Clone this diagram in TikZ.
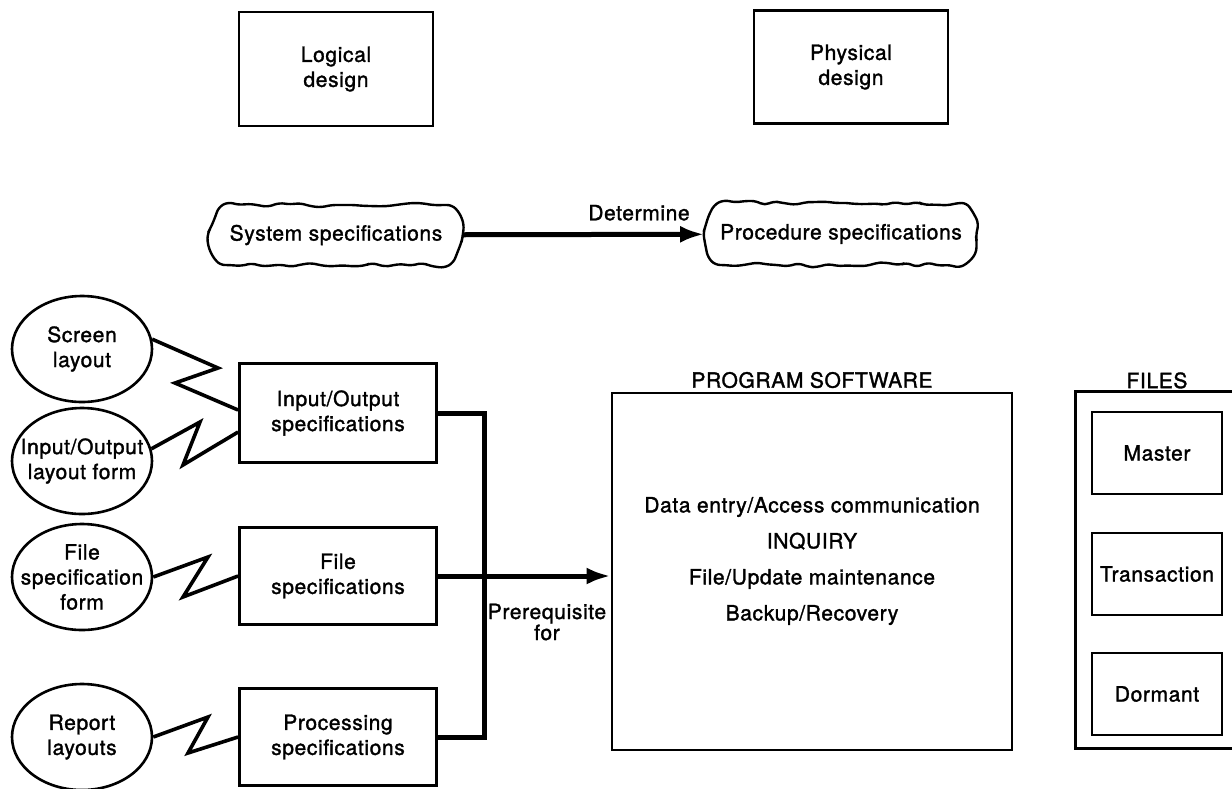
\documentclass[tikz,border=0pt]{standalone}
\usepackage{fontspec}
\setmainfont{TeX Gyre Heros}[RawFeature={embolden=1.5}, LetterSpace=3]
\usetikzlibrary{arrows.meta, shapes.geometric, shapes.misc, decorations.pathmorphing}

\tikzset{
  box/.style={draw, line width=2.8pt, align=center, inner sep=2pt},
  oval/.style={ellipse, draw, line width=2.6pt, align=center,
               minimum width=140pt, minimum height=106pt, inner sep=-14pt},
  wavy/.style={rounded rectangle, rounded rectangle arc length=100,
               draw, line width=2.4pt, rounded corners=5pt, decorate,
               decoration={random steps, segment length=10pt, amplitude=2.6pt}},
  zig/.style={line width=3.6pt, line join=miter},
  bus/.style={line width=5pt, line join=miter},
  arr/.style={line width=5pt, -{Latex[length=24pt, width=17pt]}}
}

\begin{document}
\begin{tikzpicture}[x=1pt, y=-1pt, >=Latex,
                    font=\fontsize{21}{25}\selectfont]
      \pgfmathsetseed{11}
      \useasboundingbox (0,0) rectangle (1232,788);
      \clip (0,0) rectangle (1232,788);
      % Design
      \node[box, minimum width=194pt, minimum height=114pt] (logical) at (336,69) {Logical\\design};
      \node[box, minimum width=194pt, minimum height=113pt] (physical) at (851,67) {Physical\\design};
      % Specifications
      \node[wavy, minimum width=258pt, minimum height=60pt] (sysspec) at (336,235) {System specifications};
      \node[wavy, minimum width=278pt, minimum height=62pt] (procedure) at (841,234) {Procedure specifications};
      \draw[arr] (sysspec) -- (procedure)
        node[pos=0.73, above=8pt]{Determine};
      % Forms
      \node[oval] (screen) at (82,349) {Screen\\layout};
      \node[oval] (ioform) at (82,461) {Input/Output\\layout form};
      \node[oval] (fileform) at (82,577) {File\\specification\\form};
      \node[oval] (report) at (82,737) {Report\\layouts};
      % Specification boxes
      \node[box, minimum width=197pt, minimum height=99pt] (iospec) at (338,413) {Input/Output\\specifications};
      \node[box, minimum width=197pt, minimum height=97pt] (filespec) at (338,576) {File\\specifications};
      \node[box, minimum width=197pt, minimum height=97pt] (processing) at (338,737) {Processing\\specifications};
      % Zigzags
      \draw[zig] (screen.8) -- (218,368) -- (175,383) -- ([yshift=3pt]iospec.west);
      \draw[zig] (ioform.10) -- (200,422) -- (183,465) -- ([yshift=-19pt]iospec.west);
      \draw[zig] (fileform.east) -- (208,557) -- (183,597) -- (filespec.west);
      \draw[zig] (report.east) -- (208,717) -- (188,753) -- (processing.west);
      % Program software
      \node[box, minimum width=400pt, minimum height=357pt] (program) at (812,571.5) {};
      \node[above=0pt] (progtitle) at (program.north) {PROGRAM SOFTWARE};
      \node[align=center, font=\fontsize{21}{36}\selectfont] (tasks) at (812,561)
        {Data entry/Access communication\\INQUIRY\\File/Update maintenance\\Backup/Recovery};
      % Prerequisite
      \draw[bus] (iospec.east) -| ([xshift=47pt]processing.east) -- (processing.east);
      \draw[arr] (filespec.east) -- (filespec.east -| program.west);
      \node[align=center, font=\fontsize{21}{21}\selectfont] (prereq) at (547,622) {Prerequisite\\for};
      % Files
      \node[minimum width=170pt, minimum height=356pt] (files) at (1161,570) {};
      \draw[line width=2.8pt] (files.north east) -| (files.south west) -- (files.south east);
      \node[above=0pt] (filestitle) at (1157,392) {FILES};
      \node[box, minimum width=130pt, minimum height=82pt] (master) at (1157,453) {Master};
      \node[box, minimum width=130pt, minimum height=82pt] (transaction) at (1157,574) {Transaction};
      \node[box, minimum width=130pt, minimum height=82pt] (dormant) at (1157,694) {Dormant};
\end{tikzpicture}
\end{document}
